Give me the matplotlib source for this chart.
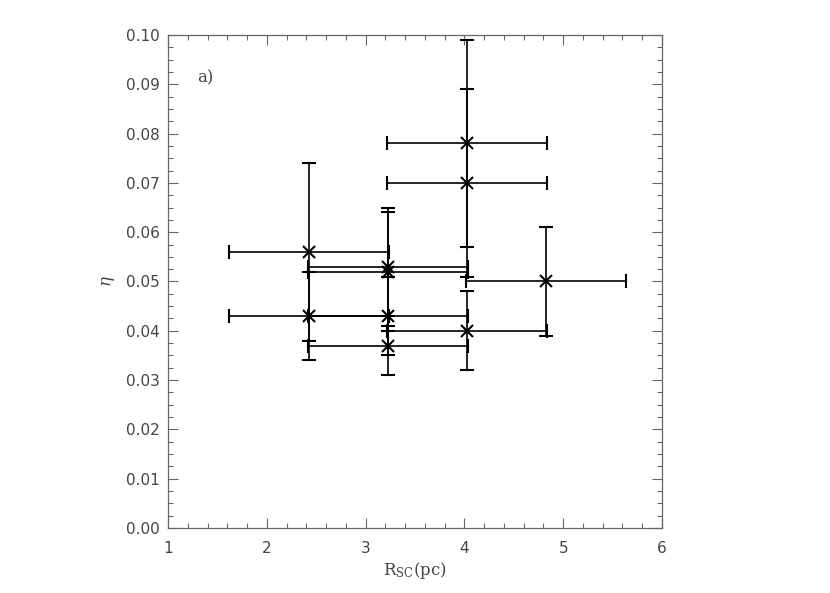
import matplotlib
matplotlib.use('Agg')
import matplotlib.pyplot as plt
from matplotlib.ticker import MultipleLocator, FormatStrFormatter

plt.rcParams['mathtext.fontset'] = 'dejavuserif'

" data read off the figure "
r_sc        = [2.43, 2.43, 3.23, 3.23, 3.23, 3.23, 4.03, 4.03, 4.03, 4.83]
r_sc_err    = [0.81, 0.81, 0.81, 0.81, 0.81, 0.81, 0.81, 0.81, 0.81, 0.81]
eta         = [0.056, 0.043, 0.053, 0.052, 0.043, 0.037, 0.078, 0.070, 0.040, 0.050]
eta_err     = [0.018, 0.009, 0.012, 0.012, 0.008, 0.006, 0.021, 0.019, 0.008, 0.011]

axis_col    = '#666666'
text_col    = '#444444'

fig = plt.figure(figsize=(8.3, 5.93), dpi=100)
ax = fig.add_axes([0.2024, 0.1096, 0.5952, 0.8314])

ax.errorbar(r_sc, eta, xerr=r_sc_err, yerr=eta_err, fmt='x',
            color='k', ecolor='k', elinewidth=1.2, capsize=5,
            capthick=1.2, markersize=8, markeredgewidth=1.5)

ax.set_xlim(1, 6)
ax.set_ylim(0, 0.10)
ax.xaxis.set_major_locator(MultipleLocator(1))
ax.xaxis.set_minor_locator(MultipleLocator(0.2))
ax.yaxis.set_major_locator(MultipleLocator(0.01))
ax.yaxis.set_minor_locator(MultipleLocator(0.0025))
ax.yaxis.set_major_formatter(FormatStrFormatter('%.2f'))

ax.tick_params(which='both', direction='in', top=True, right=True,
               color=axis_col, labelcolor=text_col, labelsize=11)
ax.tick_params(which='major', length=7, width=0.8)
ax.tick_params(which='minor', length=3.5, width=0.8)
ax.tick_params(axis='x', which='major', pad=9)
ax.tick_params(axis='y', which='major', pad=6)
for sp in ax.spines.values():
    sp.set_color(axis_col)
    sp.set_linewidth(0.9)

ax.set_xlabel(r'R$_{\rm SC}$(pc)', family='serif', fontsize=12, color=text_col,
              labelpad=3)
ax.set_ylabel(r'$\eta$', fontsize=12, color=text_col, labelpad=6)

ax.text(1.29, 0.0913, 'a)', family='serif', fontsize=12, color=text_col,
        va='center', ha='left')

fig.savefig('out.png', dpi=100)
